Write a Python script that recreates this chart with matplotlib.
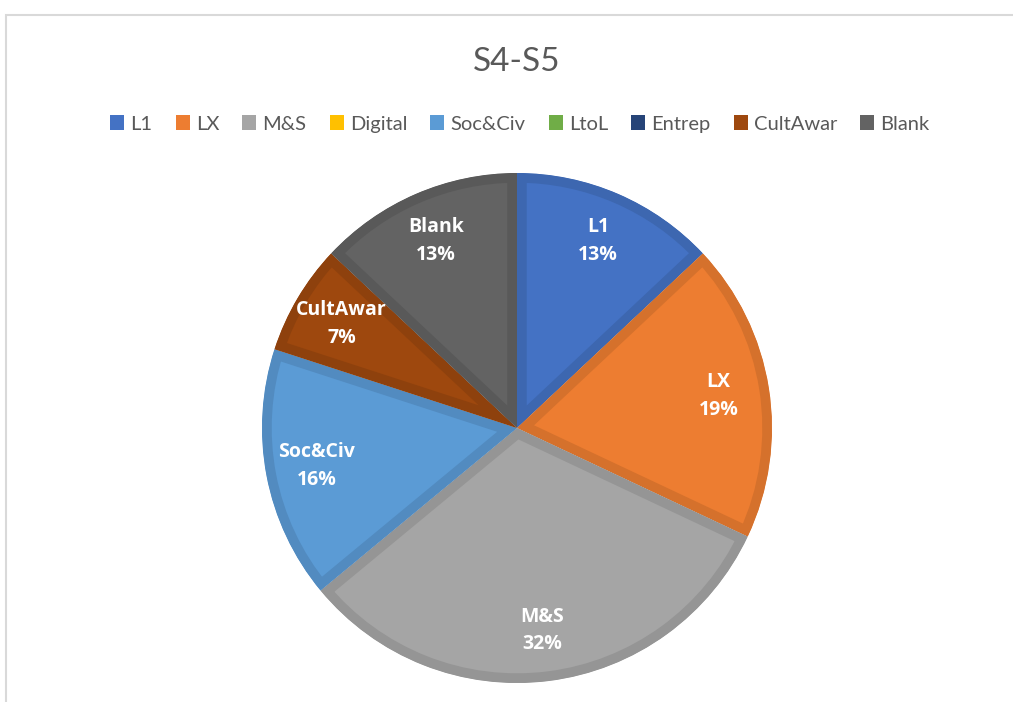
import matplotlib
matplotlib.use("Agg")
import matplotlib.pyplot as plt
from matplotlib.patches import Rectangle, Patch, Wedge
from matplotlib.colors import to_rgb
import numpy as np

categories = ["L1", "LX", "M&S", "Digital", "Soc&Civ", "LtoL", "Entrep", "CultAwar", "Blank"]
values = [13, 19, 32, 0, 16, 0, 0, 7, 13]
colors = ["#4472C4", "#ED7D31", "#A5A5A5", "#FFC000", "#5B9BD5", "#70AD47", "#264478", "#9E480E", "#636363"]
title = "S4-S5"

W, H = 1013, 702
fig = plt.figure(figsize=(W / 100, H / 100), dpi=100)
fig.patch.set_facecolor("white")

# chart frame
fig.patches.append(Rectangle((6 / W, -0.01), 1.02, (H - 15) / H + 0.01, transform=fig.transFigure,
                             facecolor="none", edgecolor="#D9D9D9", linewidth=1.5))

cx, cy, r = 517, 428, 255
ax = fig.add_axes([(cx - r) / W, (H - cy - r) / H, 2 * r / W, 2 * r / H])

def darker(c, f=0.9):
    return tuple(v * f for v in to_rgb(c))

wedges, _ = ax.pie(values, colors=colors, startangle=90, counterclock=False, radius=1.0,
                   wedgeprops=dict(linewidth=14))
for w, c, v in zip(wedges, colors, values):
    if v == 0:
        w.set_visible(False)
        continue
    w.set_edgecolor(darker(c))
    w.set_joinstyle("miter")
    clip = Wedge(w.center, w.r, w.theta1, w.theta2, transform=ax.transData)
    w.set_clip_on(True)
    w.set_clip_path(clip)

total = sum(values)
for w, cat, v in zip(wedges, categories, values):
    if v == 0:
        continue
    ang = np.deg2rad((w.theta1 + w.theta2) / 2)
    d = 0.80
    ax.text(d * np.cos(ang), d * np.sin(ang), f"{cat}\n{round(100 * v / total)}%",
            ha="center", va="center", color="white", fontsize=14, fontweight="bold",
            family="Open Sans", linespacing=1.5)

ax.set_xlim(-1, 1)
ax.set_ylim(-1, 1)
ax.set_aspect("equal")
ax.axis("off")

fig.text(517 / W, 1 - 62 / H, title, ha="center", va="center", fontsize=24, color="#595959", family="Lato")

handles = [Patch(facecolor=c, edgecolor="none") for c in colors]
fig.legend(handles, categories, loc="center", bbox_to_anchor=(520 / W, 1 - 124 / H), ncol=len(categories),
           frameon=False, prop=dict(family="Lato", size=14.5), labelcolor="#595959",
           handlelength=0.7, handleheight=0.7, handletextpad=0.3, columnspacing=1.15)

fig.savefig("out.png", dpi=100, facecolor="white")
